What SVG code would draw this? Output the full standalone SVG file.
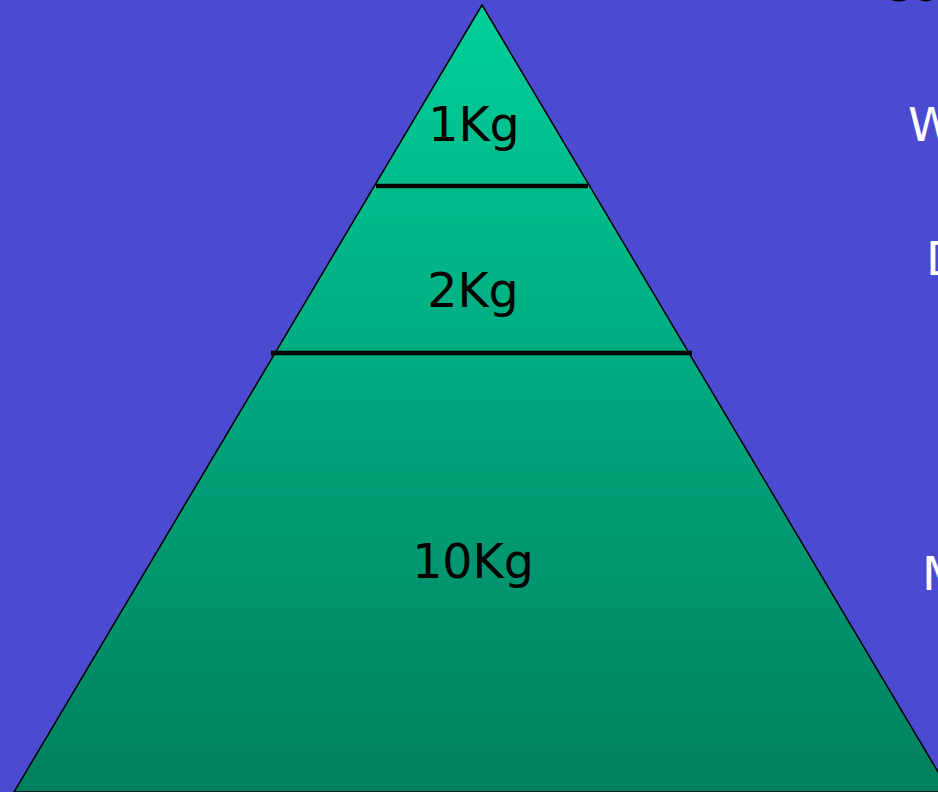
<svg xmlns="http://www.w3.org/2000/svg" width="938" height="792" viewBox="0 0 938 792">
<defs>
<linearGradient id="g" x1="0" y1="5" x2="0" y2="792" gradientUnits="userSpaceOnUse">
<stop offset="0" stop-color="#00CF9A"/>
<stop offset="1" stop-color="#00805F"/>
</linearGradient>
<style>
.lbl{font-family:"DejaVu Sans",Verdana,sans-serif;font-size:47.5px;fill:#000;text-anchor:middle}
.side{font-family:"DejaVu Sans",Verdana,sans-serif;font-size:47px;fill:#fff}
.div{stroke:#000;stroke-width:4.5}
</style>
</defs>
<rect width="938" height="792" fill="#4B4BD1"/>
<g id="pyramid">
<polygon points="482,5 950,792 14,792" fill="url(#g)" stroke="#000" stroke-width="1.5"/>
</g>
<g id="connectors">
<line class="div" x1="376" y1="186" x2="588" y2="186"/>
<line class="div" x1="271" y1="353" x2="692" y2="353"/>
</g>
<g id="level1"><text class="lbl" x="474" y="141">1Kg</text></g>
<g id="level2"><text class="lbl" x="473" y="307">2Kg</text></g>
<g id="level3"><text class="lbl" x="473" y="578">10Kg</text></g>
<g id="side-text">
<text x="880" y="1" font-family="DejaVu Sans, sans-serif" font-size="46" fill="#000">Co</text>
<text class="side" x="908" y="141">W</text>
<text class="side" x="926" y="275">D</text>
<text class="side" x="922" y="590">M</text>
</g>
</svg>
